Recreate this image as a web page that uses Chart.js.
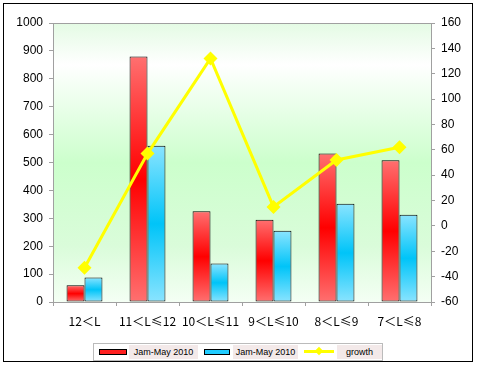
<!DOCTYPE html>
<html>
<head>
<meta charset="utf-8">
<script src="https://cdn.jsdelivr.net/npm/chart.js@4"></script>
<style>
  html, body { margin: 0; padding: 0; background: #fff; }
  #wrap { position: relative; width: 477px; height: 367px; }
  #frame { position: absolute; left: 3px; top: 3px; width: 470px; height: 359px; border: 1px solid #000; box-sizing: border-box; }
  canvas { position: absolute; left: 0; top: 0; }
  #legend { position: absolute; left: 93px; top: 343px; width: 290px; height: 18px; border: 1px solid #bbb; box-sizing: border-box;
    font: 9px "Liberation Sans", Arial, sans-serif; color: #000; background: #fff; }
  #legend .sw { position: absolute; top: 5px; height: 6px; border: 1px solid #000; box-sizing: border-box; }
  #legend .lb { position: absolute; top: 1px; height: 14px; line-height: 14px; background: #f3e9e9; text-align: center; }
  #legend .ln { position: absolute; top: 6px; height: 3px; background: #ffff00; }
  #legend .dm { position: absolute; top: 4px; width: 6px; height: 6px; background: #ffff00; transform: rotate(45deg); }
</style>
</head>
<body>
<div id="wrap">
  <div id="frame"></div>
  <canvas id="chart" width="477" height="367"></canvas>
  <div id="legend">
    <div class="sw" style="left:5px;width:28px;background:#ff2020;"></div>
    <div class="lb" style="left:35px;width:69px;">Jam-May 2010</div>
    <div class="sw" style="left:110px;width:26px;background:#20ccff;"></div>
    <div class="lb" style="left:139px;width:65px;">Jam-May 2010</div>
    <div class="ln" style="left:210px;width:30px;"></div>
    <div class="dm" style="left:222px;"></div>
    <div class="lb" style="left:243px;width:45px;">growth</div>
  </div>
</div>
<script>
// ---- data ----
const categories = ['12＜L', '11＜L≤12', '10＜L≤11', '9＜L≤10', '8＜L≤9', '7＜L≤8'];
const salesA = [60, 880, 325, 295, 532, 508];
const salesB = [88, 560, 138, 255, 352, 313];
const growth = [-33, 57, 132, 15, 52, 62];

// vertical gradient for each bar, light at the ends and deep in the middle
function barFill(light, deep) {
  return (ctx) => {
    const chart = ctx.chart;
    const y = chart.scales.y;
    if (!y || ctx.parsed === undefined || !chart.chartArea) return deep;
    const top = y.getPixelForValue(ctx.parsed.y);
    const base = y.getPixelForValue(0);
    if (!isFinite(top) || !isFinite(base) || base - top < 1) return deep;
    const g = chart.ctx.createLinearGradient(0, top, 0, base);
    g.addColorStop(0, light);
    g.addColorStop(0.5, deep);
    g.addColorStop(1, light);
    return g;
  };
}

// plot background and border
const plotBg = {
  id: 'plotBg',
  beforeDraw(chart) {
    const { ctx, chartArea: a } = chart;
    const g = ctx.createLinearGradient(0, a.top, 0, a.bottom);
    g.addColorStop(0, '#e4fbe4');
    g.addColorStop(0.15, '#ffffff');
    g.addColorStop(0.5, '#ccffcc');
    g.addColorStop(0.8, '#dafcda');
    g.addColorStop(1, '#f4fff4');
    ctx.save();
    ctx.fillStyle = g;
    ctx.fillRect(a.left, a.top, a.right - a.left, a.bottom - a.top);
    ctx.restore();
  },
  afterDatasetsDraw(chart) {
    const { ctx, chartArea: a } = chart;
    ctx.save();
    ctx.strokeStyle = '#a0a0a0';
    ctx.lineWidth = 1;
    ctx.strokeRect(a.left + 0.5, a.top + 0.5, a.right - a.left, a.bottom - a.top);
    ctx.restore();
  }
};

const tickFont = { family: '"Liberation Sans", Arial, sans-serif', size: 12 };
const plain = v => String(v);

new Chart(document.getElementById('chart'), {
  type: 'bar',
  data: {
    labels: categories,
    datasets: [
      {
        type: 'line',
        label: 'growth',
        data: growth,
        yAxisID: 'y1',
        borderColor: '#ffff00',
        backgroundColor: '#ffff00',
        borderWidth: 3,
        pointStyle: 'rectRot',
        pointRadius: 7,
        pointBorderWidth: 0,
        tension: 0,
        order: 0
      },
      {
        label: 'Jam-May 2010',
        data: salesA,
        yAxisID: 'y',
        backgroundColor: barFill('#ff7070', '#ff0000'),
        borderColor: '#000',
        borderWidth: 1,
        borderSkipped: false,
        categoryPercentage: 0.57,
        barPercentage: 1,
        order: 1
      },
      {
        label: 'Jam-May 2010',
        data: salesB,
        yAxisID: 'y',
        backgroundColor: barFill('#8ae4ff', '#00c4f8'),
        borderColor: '#000',
        borderWidth: 1,
        borderSkipped: false,
        categoryPercentage: 0.57,
        barPercentage: 1,
        order: 1
      }
    ]
  },
  options: {
    responsive: false,
    animation: false,
    layout: { padding: { top: 23, left: 0, right: 0, bottom: 0 } },
    plugins: { legend: { display: false }, tooltip: { enabled: false } },
    scales: {
      x: {
        offset: true,
        grid: { display: true, drawOnChartArea: false, drawTicks: true, tickLength: 4, color: '#a0a0a0', offset: true },
        border: { display: false },
        ticks: { color: '#000', font: { family: '"Noto Sans CJK SC", "DejaVu Sans", sans-serif', size: 12 }, padding: 8, maxRotation: 0, autoSkip: false },
        afterFit(s) { s.height = 65; }
      },
      y: {
        position: 'left',
        min: 0, max: 1000,
        ticks: { stepSize: 100, color: '#000', font: tickFont, padding: 6, callback: plain },
        grid: { display: true, drawOnChartArea: false, drawTicks: true, tickLength: 4, color: '#a0a0a0' },
        border: { display: false },
        afterFit(s) { s.width = 53; }
      },
      y1: {
        position: 'right',
        min: -60, max: 160,
        ticks: { stepSize: 20, color: '#000', font: tickFont, padding: 6, callback: plain },
        grid: { display: true, drawOnChartArea: false, drawTicks: true, tickLength: 4, color: '#a0a0a0' },
        border: { display: false },
        afterFit(s) { s.width = 46; }
      }
    }
  },
  plugins: [plotBg]
});
</script>
</body>
</html>
